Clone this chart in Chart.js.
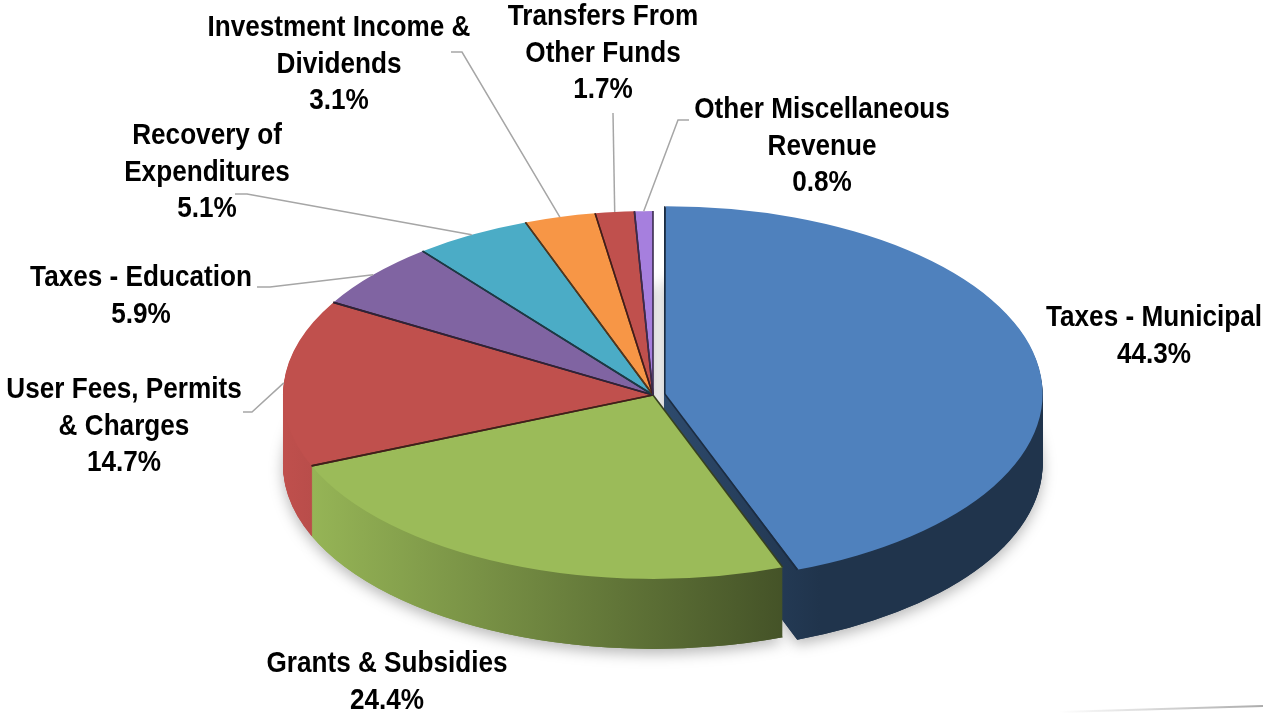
<!DOCTYPE html>
<html>
<head>
<meta charset="utf-8">
<script src="https://cdn.jsdelivr.net/npm/chart.js@4.4.1/dist/chart.umd.min.js"></script>
<style>
  html, body { margin: 0; padding: 0; background: #fff; }
  #revenueChart { display: block; }
</style>
</head>
<body>
<canvas id="revenueChart" width="1263" height="714"></canvas>
<script>
// Revenue sources, share of total (%)
const categories = [
  ["Taxes - Municipal"],
  ["Grants & Subsidies"],
  ["User Fees, Permits", "& Charges"],
  ["Taxes - Education"],
  ["Recovery of", "Expenditures"],
  ["Investment Income &", "Dividends"],
  ["Transfers From", "Other Funds"],
  ["Other Miscellaneous", "Revenue"]
];
const shares = [44.3, 24.4, 14.7, 5.9, 5.1, 3.1, 1.7, 0.8];

const sliceColors = ["#4F81BD", "#9BBB59", "#C0504D", "#8064A2", "#4BACC6", "#F79646", "#C0504D", "#A67FDE"];
const explode = [48, 0, 0, 0, 0, 0, 0, 0];

// projection of the flat pie: centre on screen, vertical squash, thickness
const CX = 653, CY = 395, TILT = 0.497, DEPTH = 70, R = 370;

// label block centres and leader line start (+ elbow) points
const labelLayout = [
  { x: 1154, y: 318 },
  { x: 387, y: 664 },
  { x: 124, y: 390, lead: [[243, 412], [252, 412]] },
  { x: 141, y: 278, lead: [[257, 287], [270, 287]] },
  { x: 207, y: 136, lead: [[235, 194], [247, 194]] },
  { x: 339, y: 28, lead: [[451, 52], [462, 52]] },
  { x: 603, y: 17, lead: [[613, 113]] },
  { x: 822, y: 110, lead: [[689, 120], [678, 120]] }
];
const LINE_GAP = 36.5;
const LABEL_FONT = 'bold 30px "Liberation Sans Narrow", "Arial Narrow", "Liberation Sans", Arial, sans-serif';
// condensed look: "Taxes - Municipal" runs about 216px wide
const REF_TEXT = "Taxes - Municipal", REF_WIDTH = 216;

function shade(hex, f) {
  const n = parseInt(hex.slice(1), 16);
  const r = Math.round(((n >> 16) & 255) * f);
  const g = Math.round(((n >> 8) & 255) * f);
  const b = Math.round((n & 255) * f);
  return `rgb(${Math.min(r, 255)},${Math.min(g, 255)},${Math.min(b, 255)})`;
}

// geometry of an arc the way ArcElement.draw places it (offset / 4 along the mid angle)
function arcGeom(a) {
  const mid = (a.startAngle + a.endAngle) / 2;
  const off = (a.options.offset || 0) / 4;
  const fix = 1 - Math.sin(Math.min(Math.PI, a.circumference || 0));
  return {
    mid,
    x: a.x + Math.cos(mid) * off,
    y: a.y + Math.sin(mid) * off,
    r: a.outerRadius + off * fix
  };
}

function slicePath(ctx, a) {
  const g = arcGeom(a);
  ctx.beginPath();
  ctx.moveTo(g.x, g.y);
  ctx.arc(g.x, g.y, g.r, a.startAngle, a.endAngle);
  ctx.closePath();
}

function project(ctx, ox, oy, drop) {
  ctx.translate(CX, CY + drop);
  ctx.scale(1, TILT);
  ctx.translate(-ox, -oy);
}

const pie3d = {
  id: "pie3d",
  beforeDatasetsDraw(chart) {
    const ctx = chart.ctx;
    const arcs = chart.getDatasetMeta(0).data;
    const ox = arcs[0].x, oy = arcs[0].y;
    const order = arcs.map((a, i) => i)
      .sort((i, j) => Math.sin(arcGeom(arcs[i]).mid) - Math.sin(arcGeom(arcs[j]).mid));

    const sideFill = (i) => {
      const grad = ctx.createLinearGradient(280 - CX + ox, 0, 820 - CX + ox, 0);
      grad.addColorStop(0, shade(sliceColors[i], 1.0));
      grad.addColorStop(1, shade(sliceColors[i], 0.4));
      return grad;
    };

    // faint floor line at the lower right
    const floor = ctx.createLinearGradient(1060, 0, 1263, 0);
    floor.addColorStop(0, "rgba(150,150,150,0)");
    floor.addColorStop(1, "rgba(150,150,150,0.8)");
    ctx.save();
    ctx.strokeStyle = floor;
    ctx.lineWidth = 2;
    ctx.beginPath();
    ctx.moveTo(1060, 712);
    ctx.lineTo(1263, 706);
    ctx.stroke();
    ctx.restore();

    // soft shadow under the whole pie
    ctx.save();
    ctx.shadowColor = "rgba(0,0,0,0.28)";
    ctx.shadowBlur = 14;
    ctx.shadowOffsetY = 5;
    order.forEach(i => {
      ctx.save();
      project(ctx, ox, oy, DEPTH);
      slicePath(ctx, arcs[i]);
      ctx.fillStyle = sideFill(i);
      ctx.fill();
      ctx.restore();
    });
    ctx.restore();

    // extruded sides, back slices first
    order.forEach(i => {
      for (let d = DEPTH; d > 0; d--) {
        ctx.save();
        project(ctx, ox, oy, d);
        slicePath(ctx, arcs[i]);
        ctx.fillStyle = sideFill(i);
        ctx.fill();
        ctx.restore();
      }
    });

    // top faces are drawn by Chart.js itself under this projection
    ctx.save();
    project(ctx, ox, oy, 0);
  },
  afterDatasetsDraw(chart) {
    const ctx = chart.ctx;
    ctx.restore();
    const arcs = chart.getDatasetMeta(0).data;
    const ox = arcs[0].x, oy = arcs[0].y;
    const toScreen = (ux, uy) => [CX + (ux - ox), CY + TILT * (uy - oy)];

    // dark seams between neighbouring slices
    ctx.save();
    ctx.lineWidth = 1.6;
    arcs.forEach((a, i) => {
      const g = arcGeom(a);
      ctx.strokeStyle = shade(sliceColors[i], 0.35);
      [a.startAngle, a.endAngle].forEach(ang => {
        const p0 = toScreen(g.x, g.y);
        const p1 = toScreen(g.x + Math.cos(ang) * g.r, g.y + Math.sin(ang) * g.r);
        ctx.beginPath();
        ctx.moveTo(p0[0], p0[1]);
        ctx.lineTo(p1[0], p1[1]);
        ctx.stroke();
      });
    });
    ctx.restore();

    // leader lines from the label to the slice rim
    ctx.save();
    ctx.strokeStyle = "#a6a6a6";
    ctx.lineWidth = 1.5;
    arcs.forEach((a, i) => {
      const lay = labelLayout[i];
      if (!lay.lead) return;
      const g = arcGeom(a);
      const end = toScreen(g.x + Math.cos(g.mid) * g.r, g.y + Math.sin(g.mid) * g.r);
      ctx.beginPath();
      ctx.moveTo(lay.lead[0][0], lay.lead[0][1]);
      lay.lead.slice(1).forEach(p => ctx.lineTo(p[0], p[1]));
      ctx.lineTo(end[0], end[1]);
      ctx.stroke();
    });
    ctx.restore();

    // labels: name lines plus the share
    ctx.save();
    ctx.font = LABEL_FONT;
    const stretch = REF_WIDTH / ctx.measureText(REF_TEXT).width;
    ctx.fillStyle = "#000";
    ctx.textAlign = "center";
    ctx.textBaseline = "middle";
    shares.forEach((v, i) => {
      const lay = labelLayout[i];
      const lines = categories[i].concat([v.toFixed(1) + "%"]);
      ctx.save();
      ctx.translate(lay.x, 0);
      ctx.scale(stretch, 1);
      lines.forEach((t, k) => ctx.fillText(t, 0, lay.y + k * LINE_GAP));
      ctx.restore();
    });
    ctx.restore();
  }
};

const ctx = document.getElementById("revenueChart").getContext("2d");
new Chart(ctx, {
  type: "pie",
  data: {
    labels: categories.map(c => c.join(" ")),
    datasets: [{
      data: shares,
      backgroundColor: sliceColors,
      borderWidth: 0,
      offset: explode,
      radius: R,
      clip: false
    }]
  },
  options: {
    responsive: false,
    animation: false,
    events: [],
    layout: { padding: 0 },
    plugins: {
      legend: { display: false },
      tooltip: { enabled: false }
    }
  },
  plugins: [pie3d]
});
</script>
</body>
</html>
